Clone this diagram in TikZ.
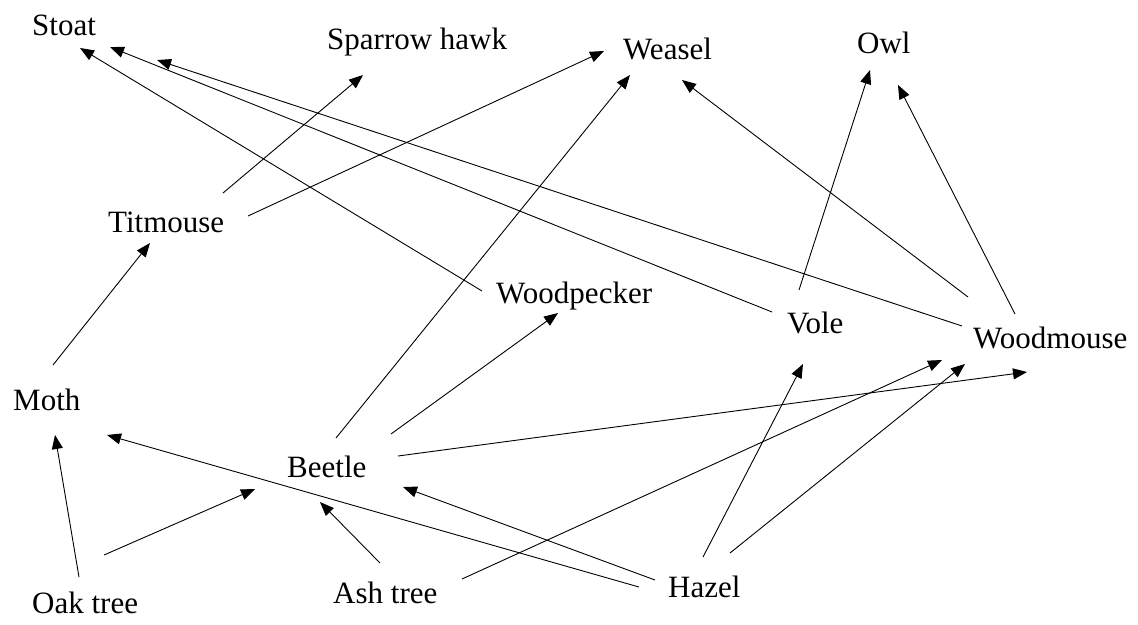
\documentclass[tikz,border=0pt]{standalone}
\usepackage{fontspec}
\setmainfont{Liberation Serif}
\usetikzlibrary{arrows.meta}
\begin{document}
\begin{tikzpicture}[x=1pt,y=-1pt,
  lbl/.style={anchor=base west, inner sep=0pt, font=\fontsize{31}{36}\selectfont},
  link/.style={line width=0.9pt, -{Triangle[length=14pt,width=11pt]}}]
\useasboundingbox (0,0) rectangle (1138,624);
% species
\node[lbl] (stoat) at (32,35) {Stoat};
\node[lbl] (sparrow) at (327,49) {Sparrow hawk};
\node[lbl] (weasel) at (623,59) {Weasel};
\node[lbl] (owl) at (857,53) {Owl};
\node[lbl] (titmouse) at (108,232) {Titmouse};
\node[lbl] (woodpecker) at (496,303) {Woodpecker};
\node[lbl] (vole) at (787,333) {Vole};
\node[lbl] (woodmouse) at (973,348) {Woodmouse};
\node[lbl] (moth) at (13,410) {Moth};
\node[lbl] (beetle) at (287,477) {Beetle};
\node[lbl] (oak) at (32,613) {Oak tree};
\node[lbl] (ash) at (333,603) {Ash tree};
\node[lbl] (hazel) at (668,597) {Hazel};
% connector end points
\coordinate (wp-st-a) at (482,291);  \coordinate (wp-st-b) at (80,48);
\coordinate (vo-st-a) at (772,312);  \coordinate (vo-st-b) at (110,47);
\coordinate (wm-st-a) at (962,326);  \coordinate (wm-st-b) at (157,60);
\coordinate (ti-sp-a) at (223,193);  \coordinate (ti-sp-b) at (363,75);
\coordinate (ti-we-a) at (248,216);  \coordinate (ti-we-b) at (604,51);
\coordinate (be-we-a) at (336,438);  \coordinate (be-we-b) at (630,75);
\coordinate (wm-we-a) at (968,297);  \coordinate (wm-we-b) at (682,80);
\coordinate (vo-ow-a) at (799,290);  \coordinate (vo-ow-b) at (870,70);
\coordinate (wm-ow-a) at (1015,314); \coordinate (wm-ow-b) at (898,85);
\coordinate (mo-ti-a) at (53,365);   \coordinate (mo-ti-b) at (150,243);
\coordinate (be-wp-a) at (391,434);  \coordinate (be-wp-b) at (558,313);
\coordinate (be-wm-a) at (398,456);  \coordinate (be-wm-b) at (1027,372);
\coordinate (ha-vo-a) at (703,557);  \coordinate (ha-vo-b) at (803,364);
\coordinate (as-wm-a) at (462,579);  \coordinate (as-wm-b) at (942,360);
\coordinate (ha-wm-a) at (730,553);  \coordinate (ha-wm-b) at (965,364);
\coordinate (oa-mo-a) at (79,577);   \coordinate (oa-mo-b) at (55,435);
\coordinate (ha-mo-a) at (639,587);  \coordinate (ha-mo-b) at (107,435);
\coordinate (oa-be-a) at (104,555);  \coordinate (oa-be-b) at (255,489);
\coordinate (as-be-a) at (380,563);  \coordinate (as-be-b) at (320,502);
\coordinate (ha-be-a) at (655,580);  \coordinate (ha-be-b) at (403,487);
% connectors
\foreach \c in {wp-st,vo-st,wm-st,ti-sp,ti-we,be-we,wm-we,vo-ow,wm-ow,mo-ti,be-wp,be-wm,ha-vo,as-wm,ha-wm,oa-mo,ha-mo,oa-be,as-be,ha-be}
  \draw[link] (\c-a) -- (\c-b);
\end{tikzpicture}
\end{document}
